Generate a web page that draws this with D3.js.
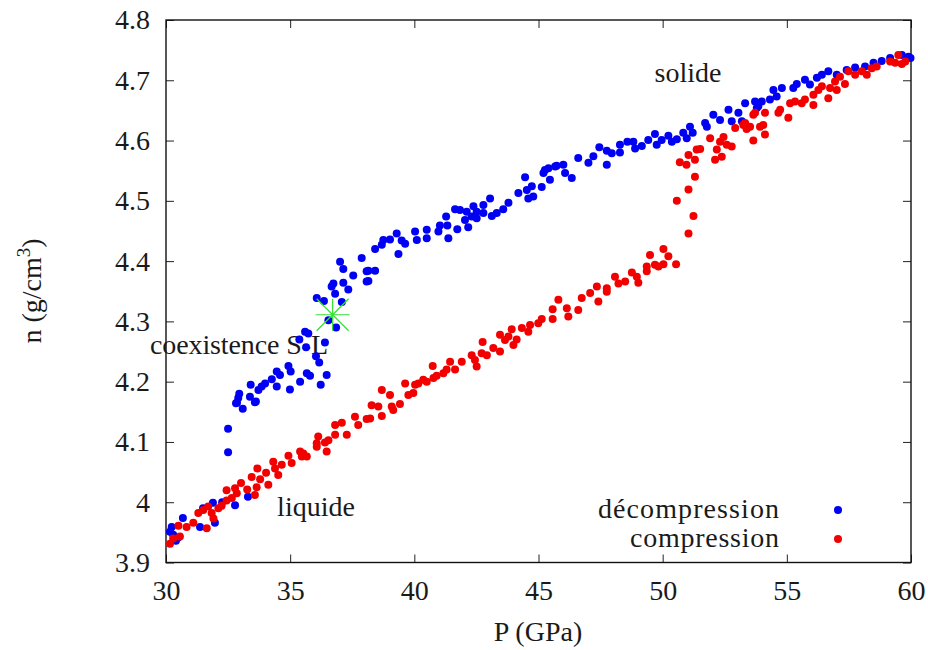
<!DOCTYPE html>
<html>
<head>
<meta charset="utf-8">
<script src="https://cdn.jsdelivr.net/npm/d3@7"></script>
<style>
  html, body { margin: 0; padding: 0; background: #fff; }
</style>
</head>
<body>
<svg id="chart" width="928" height="650"></svg>
<script>
// ---- data ----
const xTicks = [30, 35, 40, 45, 50, 55, 60];
const yTicks = [3.9, 4.0, 4.1, 4.2, 4.3, 4.4, 4.5, 4.6, 4.7, 4.8];
const yTickLabels = ["3.9", "4", "4.1", "4.2", "4.3", "4.4", "4.5", "4.6", "4.7", "4.8"];
const seriesNames = ["décompression", "compression"];
const seriesColors = ["#0000f2", "#f20000"];

// decompression (P GPa, n g/cm3)
const decompression = [
[30.16,3.951],[30.23,3.959],[30.29,3.946],[30.40,3.936],[30.48,3.941],[30.68,3.974],[31.37,3.959],[31.49,3.990],
[31.89,3.999],[31.97,3.966],[32.26,4.000],[32.78,3.995],[33.30,4.009],[32.50,4.122],[32.50,4.083],[32.82,4.164],
[32.86,4.165],[32.91,4.173],[32.95,4.180],[33.09,4.155],[33.38,4.175],[33.41,4.195],[33.58,4.166],[33.62,4.167],
[33.72,4.186],[33.85,4.192],[33.99,4.197],[34.26,4.204],[34.46,4.192],[34.46,4.217],[34.59,4.211],[34.93,4.226],
[34.99,4.187],[35.02,4.217],[35.37,4.270],[35.40,4.200],[35.60,4.283],[35.64,4.257],[35.67,4.214],[35.73,4.280],
[35.80,4.210],[36.04,4.242],[36.07,4.339],[36.17,4.232],[36.23,4.195],[36.36,4.334],[36.40,4.265],[36.47,4.211],
[36.54,4.302],[36.67,4.358],[36.74,4.363],[36.81,4.346],[36.85,4.290],[37.01,4.399],[37.08,4.332],[37.14,4.387],
[37.14,4.364],[37.34,4.353],[37.54,4.376],[37.88,4.405],[38.08,4.383],[38.08,4.366],[38.15,4.384],[38.15,4.367],
[38.42,4.384],[38.42,4.420],[38.69,4.427],[38.75,4.435],[39.02,4.436],[39.29,4.446],[39.36,4.412],[39.49,4.434],
[39.63,4.429],[40.03,4.449],[40.10,4.435],[40.50,4.452],[40.50,4.438],[40.97,4.449],[41.03,4.459],[41.28,4.474],
[41.33,4.459],[41.37,4.438],[41.64,4.486],[41.73,4.453],[41.84,4.485],[42.04,4.468],[42.11,4.482],[42.17,4.456],
[42.31,4.474],[42.38,4.491],[42.51,4.482],[42.51,4.471],[42.78,4.493],[42.78,4.480],[43.05,4.504],[43.12,4.475],
[43.32,4.480],[43.58,4.486],[43.79,4.497],[44.19,4.513],[44.46,4.539],[44.53,4.518],[44.59,4.504],[44.73,4.524],
[44.79,4.507],[45.13,4.523],[45.20,4.546],[45.26,4.551],[45.40,4.554],[45.46,4.535],[45.67,4.557],[45.73,4.558],
[46.00,4.560],[46.07,4.546],[46.34,4.538],[46.60,4.571],[47.01,4.563],[47.21,4.574],[47.45,4.589],[47.75,4.583],
[47.75,4.560],[47.95,4.579],[48.28,4.593],[48.28,4.580],[48.58,4.598],[48.82,4.598],[48.89,4.587],[49.16,4.591],
[49.42,4.601],[49.69,4.611],[49.76,4.593],[49.96,4.601],[50.23,4.608],[50.37,4.598],[50.57,4.602],[50.83,4.613],
[50.97,4.604],[51.10,4.623],[51.21,4.613],[51.71,4.629],[51.78,4.623],[52.04,4.643],[52.31,4.634],[52.65,4.651],
[52.78,4.632],[53.05,4.646],[53.19,4.632],[53.32,4.662],[53.72,4.665],[53.79,4.654],[53.85,4.657],[53.99,4.665],
[54.32,4.668],[54.46,4.684],[54.59,4.673],[54.80,4.687],[55.26,4.687],[55.40,4.694],[55.73,4.701],[55.93,4.693],
[56.21,4.704],[56.41,4.709],[56.67,4.715],[57.01,4.709],[57.41,4.717],[57.75,4.721],[58.15,4.723],[58.49,4.729],
[58.82,4.732],[59.16,4.737],[59.63,4.742],[59.90,4.739],[59.98,4.737]
];

// compression (P GPa, n g/cm3)
const compression = [
[30.16,3.931],[30.29,3.940],[30.50,3.961],[30.56,3.943],[30.83,3.959],[31.10,3.966],[31.30,3.982],[31.50,3.987],
[31.64,3.957],[31.70,3.993],[31.84,3.982],[31.91,3.973],[32.11,3.990],[32.24,3.994],[32.44,4.003],[32.44,4.020],
[32.65,4.007],[32.78,4.023],[32.85,4.015],[33.02,4.032],[33.27,4.021],[33.45,4.042],[33.58,4.012],[33.65,4.025],
[33.68,4.056],[33.79,4.038],[34.03,4.049],[34.12,4.029],[34.32,4.067],[34.39,4.056],[34.52,4.045],[34.66,4.062],
[34.93,4.077],[35.06,4.065],[35.40,4.084],[35.47,4.076],[35.53,4.081],[35.67,4.076],[36.07,4.092],[36.07,4.098],
[36.13,4.109],[36.40,4.099],[36.47,4.084],[36.54,4.103],[36.81,4.112],[36.81,4.128],[37.08,4.132],[37.28,4.112],
[37.61,4.142],[37.74,4.128],[38.08,4.138],[38.22,4.139],[38.28,4.161],[38.55,4.159],[38.69,4.143],[38.69,4.186],
[39.02,4.178],[39.09,4.159],[39.15,4.153],[39.42,4.163],[39.63,4.197],[39.76,4.178],[39.96,4.181],[40.03,4.195],
[40.16,4.197],[40.36,4.203],[40.50,4.200],[40.74,4.226],[40.77,4.206],[40.90,4.210],[41.17,4.214],[41.30,4.220],
[41.44,4.233],[41.64,4.220],[41.91,4.233],[42.31,4.244],[42.44,4.236],[42.51,4.225],[42.71,4.247],[42.75,4.266],
[42.92,4.244],[43.18,4.256],[43.45,4.250],[43.45,4.278],[43.65,4.269],[43.79,4.275],[43.92,4.287],[43.99,4.261],
[44.12,4.270],[44.33,4.289],[44.59,4.283],[44.66,4.294],[44.99,4.297],[45.13,4.304],[45.57,4.304],[45.57,4.320],
[45.80,4.336],[46.14,4.322],[46.20,4.308],[46.60,4.319],[46.74,4.339],[47.08,4.347],[47.35,4.358],[47.41,4.333],
[47.75,4.355],[47.75,4.349],[48.08,4.374],[48.22,4.363],[48.49,4.366],[48.76,4.381],[48.96,4.374],[49.02,4.364],
[49.36,4.383],[49.36,4.391],[49.49,4.410],[49.69,4.394],[49.83,4.391],[50.03,4.420],[50.03,4.395],[50.23,4.408],
[50.54,4.395],[50.57,4.500],[51.04,4.446],[51.24,4.475],[51.04,4.519],[51.30,4.540],[50.69,4.564],[50.96,4.560],
[51.04,4.576],[51.30,4.568],[51.37,4.585],[51.51,4.586],[51.91,4.604],[52.11,4.568],[52.18,4.585],[52.31,4.598],
[52.38,4.573],[52.45,4.606],[52.58,4.593],[52.78,4.590],[52.92,4.621],[53.25,4.626],[53.32,4.629],[53.38,4.619],
[53.52,4.623],[53.65,4.643],[53.65,4.600],[53.72,4.646],[53.92,4.623],[54.05,4.626],[54.12,4.646],[54.12,4.610],
[54.66,4.646],[54.73,4.651],[55.06,4.638],[55.13,4.662],[55.33,4.665],[55.60,4.662],[55.73,4.668],[56.07,4.659],
[56.07,4.676],[56.27,4.684],[56.41,4.690],[56.67,4.670],[56.74,4.687],[56.94,4.698],[57.01,4.684],[57.14,4.706],
[57.34,4.694],[57.48,4.715],[57.75,4.709],[58.02,4.715],[58.22,4.709],[58.42,4.720],[58.62,4.723],[59.16,4.731],
[59.36,4.729],[59.49,4.742],[59.63,4.727],[59.77,4.731]
];

// coexistence marker
const coexistencePoint = [[36.71, 4.311]];

// ---- chart ----
const FONT = "'Liberation Serif', 'Times New Roman', serif";
const svg = d3.select("#chart");
const M = { left: 166, right: 911, top: 20, bottom: 562.5 };
const x = d3.scaleLinear().domain([30, 60]).range([M.left, M.right]);
const y = d3.scaleLinear().domain([3.9, 4.8]).range([M.bottom, M.top]);
const FS = 28;
const R = 4;

function txt(sel) {
  return sel.style("font-family", FONT).style("fill", "#1a1a1a").style("font-size", FS + "px");
}

// axes (ticks inward, mirrored)
const gx = svg.append("g").attr("transform", `translate(0,${M.bottom})`)
  .call(d3.axisBottom(x).tickValues(xTicks).tickSize(-8).tickPadding(18).tickFormat(d3.format("d")));
const gxt = svg.append("g").attr("transform", `translate(0,${M.top})`)
  .call(d3.axisTop(x).tickValues(xTicks).tickSize(-8).tickFormat(""));
const gy = svg.append("g").attr("transform", `translate(${M.left},0)`)
  .call(d3.axisLeft(y).tickValues(yTicks).tickSize(-8).tickPadding(16).tickFormat((d, i) => yTickLabels[i]));
const gyr = svg.append("g").attr("transform", `translate(${M.right},0)`)
  .call(d3.axisRight(y).tickValues(yTicks).tickSize(-8).tickFormat(""));

[gx, gxt, gy, gyr].forEach(g => {
  g.attr("font-family", null).attr("font-size", null);
  g.select(".domain").remove();
  g.selectAll(".tick line").attr("stroke", "#222").attr("stroke-width", 1);
  txt(g.selectAll("text"));
});
svg.append("rect")
  .attr("x", M.left).attr("y", M.top)
  .attr("width", M.right - M.left).attr("height", M.bottom - M.top)
  .attr("fill", "none").attr("stroke", "#111").attr("stroke-width", 1.4);

// axis titles
txt(svg.append("text").attr("x", 538).attr("y", 641).attr("text-anchor", "middle")).text("P (GPa)");
const yl = txt(svg.append("text").attr("transform", "translate(41,291) rotate(-90)")
  .attr("text-anchor", "middle"));
yl.append("tspan").text("n (g/cm");
yl.append("tspan").style("font-size", "19px").attr("dy", -11).text("3");
yl.append("tspan").attr("dy", 11).text(")");

// annotations
txt(svg.append("text").attr("x", 688).attr("y", 82).attr("text-anchor", "middle")).text("solide");
txt(svg.append("text").attr("x", 150).attr("y", 354).attr("text-anchor", "start")
  .attr("textLength", 178)).text("coexistence S-L");
txt(svg.append("text").attr("x", 316).attr("y", 516).attr("text-anchor", "middle")).text("liquide");

// legend
const legendLen = [181, 149];
seriesNames.forEach((name, i) => {
  txt(svg.append("text").attr("x", 779 - legendLen[i]).attr("y", 518 + i * 29).attr("text-anchor", "start")
    .attr("textLength", legendLen[i])).text(name);
  svg.append("circle").attr("cx", 838).attr("cy", 510 + i * 29).attr("r", R).attr("fill", seriesColors[i]);
});

// points
const plot = svg.append("g");
plot.selectAll("circle.decomp").data(decompression).join("circle").attr("class", "decomp")
  .attr("cx", d => x(d[0])).attr("cy", d => y(d[1])).attr("r", R).attr("fill", seriesColors[0]);
plot.selectAll("circle.comp").data(compression).join("circle").attr("class", "comp")
  .attr("cx", d => x(d[0])).attr("cy", d => y(d[1])).attr("r", R).attr("fill", seriesColors[1]);

// green star marker
const star = svg.append("g").selectAll("g").data(coexistencePoint).join("g")
  .attr("transform", d => `translate(${x(d[0])},${y(d[1])})`);
const arms = [[-17, 0, 17, 0], [0, -16, 0, 16], [-16, -16, 16, 16], [-16, 16, 16, -16]];
arms.forEach(a => star.append("line").attr("x1", a[0]).attr("y1", a[1]).attr("x2", a[2]).attr("y2", a[3])
  .attr("stroke", "#33e033").attr("stroke-width", 1.2));
</script>
</body>
</html>
